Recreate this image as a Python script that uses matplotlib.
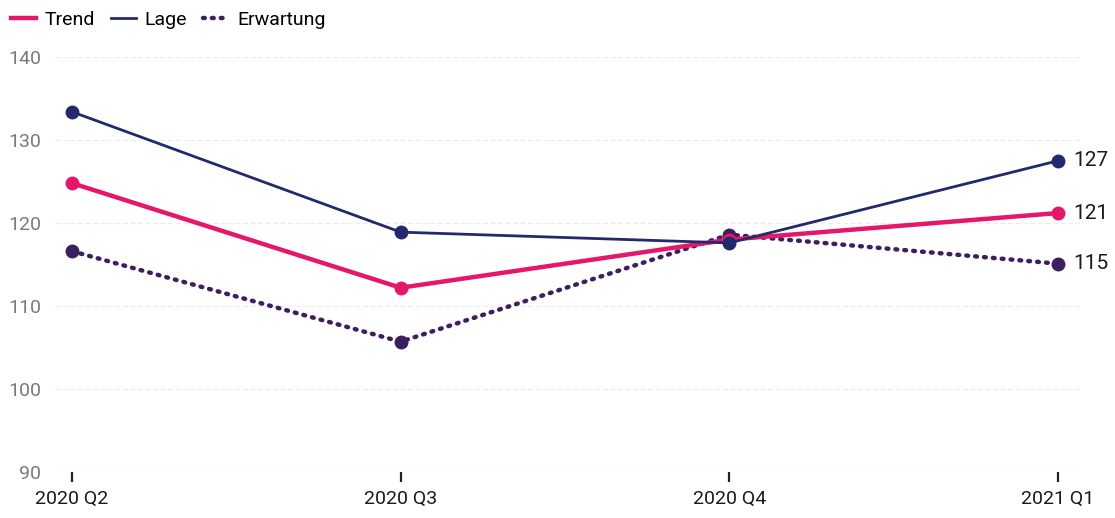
import matplotlib.pyplot as plt

plt.rcParams['font.family'] = ['Roboto', 'DejaVu Sans']

quarters = ["2020 Q2", "2020 Q3", "2020 Q4", "2021 Q1"]
trend = [124.8, 112.2, 118.0, 121.2]
lage = [133.4, 118.9, 117.6, 127.5]
erwartung = [116.6, 105.7, 118.6, 115.1]
end_labels = ["121", "127", "115"]

pink = "#e5176b"
navy = "#232a6b"
purple = "#3b1f5e"

fig = plt.figure(figsize=(11.15, 5.18), dpi=100)
ax = fig.add_axes([55 / 1115, 1 - 472 / 518, (1080 - 55) / 1115, (472 - 57) / 518])

x = range(len(quarters))
ax.plot(x, erwartung, color=purple, lw=3.2, ls=(0, (0.4, 1.6)), dash_capstyle="round",
        marker="o", ms=9, label="Erwartung", zorder=3)
ax.plot(x, trend, color=pink, lw=3.2, marker="o", ms=9, label="Trend", zorder=4)
ax.plot(x, lage, color=navy, lw=2.0, marker="o", ms=9, label="Lage", zorder=5)

# Werte am rechten Rand
for vals, txt in zip([trend, lage, erwartung], end_labels):
    ax.annotate(txt, (3, vals[-1]), xytext=(11, 0), textcoords="offset points",
                va="center", ha="left", fontsize=15, color="#1a1a1a", annotation_clip=False)

ax.set_xlim(-17 / 328.7, 3 + 22 / 328.7)
ax.set_ylim(90, 140)
ax.set_yticks([90, 100, 110, 120, 130, 140])
ax.set_xticks(list(x))
ax.set_xticklabels(quarters)
ax.grid(axis="y", color="#ececec", lw=0.9, ls=(0, (4, 2)))
ax.grid(axis="x", visible=False)
ax.set_axisbelow(True)
for s in ax.spines.values():
    s.set_visible(False)
ax.tick_params(axis="y", length=0, pad=10, labelsize=14, labelcolor="#7a7a7a")
ax.tick_params(axis="x", length=7, width=1.6, color="#222222", pad=6,
               labelsize=14, labelcolor="#1a1a1a")

handles, labels = ax.get_legend_handles_labels()
order = [1, 2, 0]
fig.legend([handles[i] for i in order], [labels[i] for i in order],
           loc="upper left", bbox_to_anchor=(-0.006, 1.012), ncol=3, frameon=False,
           fontsize=14, handlelength=1.3, handletextpad=0.45, columnspacing=0.8)
for h in fig.legends[0].legend_handles:
    h.set_marker("")

fig.savefig("out.png", dpi=100, facecolor="white")
